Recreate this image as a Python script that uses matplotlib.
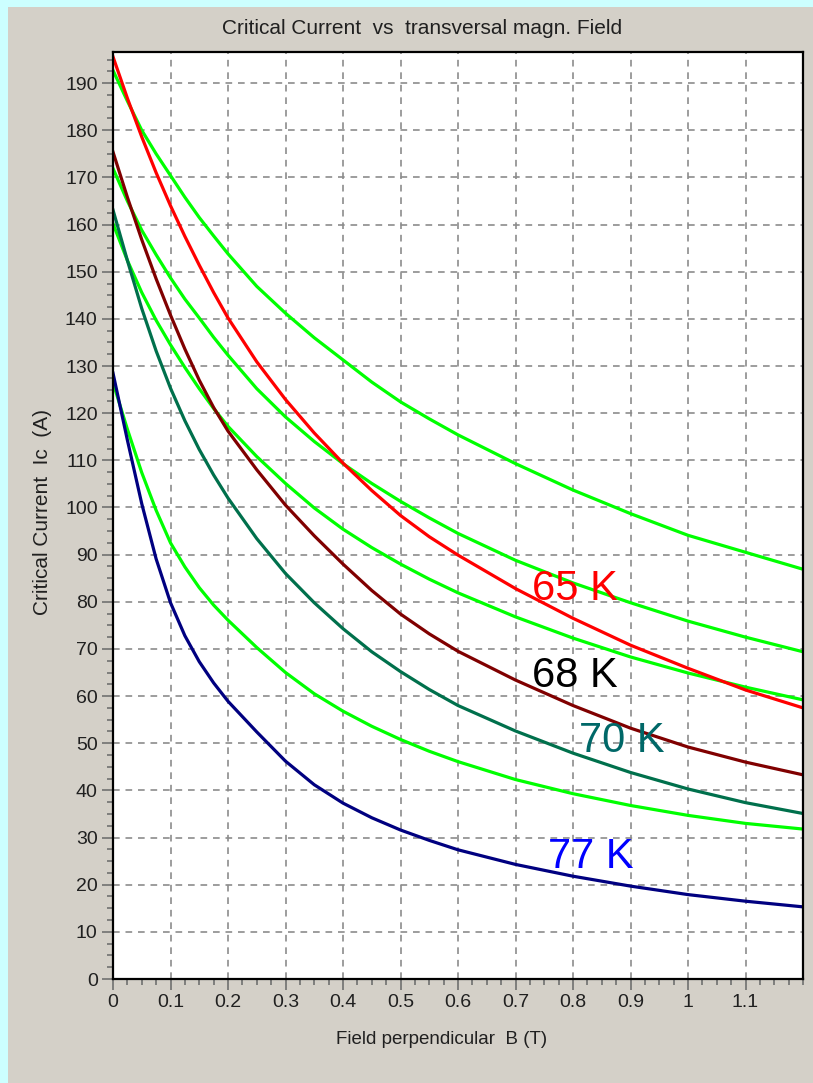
import matplotlib
matplotlib.use("Agg")
import matplotlib.pyplot as plt
from matplotlib.patches import Rectangle
from matplotlib.ticker import MultipleLocator, FixedLocator

plt.rcParams['font.family'] = ['Liberation Sans', 'DejaVu Sans']

# ---- data ----
field_b = [0, 0.025, 0.05, 0.075, 0.1, 0.125, 0.15, 0.175, 0.2, 0.25, 0.3, 0.35, 0.4, 0.45,
           0.5, 0.55, 0.6, 0.7, 0.8, 0.9, 1.0, 1.1, 1.2]

ic_65k = [195.6, 186.8, 178.6, 171.0, 164.0, 157.5, 151.4, 145.6, 140.2, 130.9, 122.9, 115.8, 109.4, 103.6,
          98.3, 93.8, 89.9, 82.8, 76.5, 70.8, 65.9, 61.3, 57.5]
fit_65k = [192.7, 186.2, 180.0, 175.0, 170.4, 165.8, 161.5, 157.6, 153.8, 146.9, 141.2, 136.0, 131.3, 126.6,
           122.4, 118.8, 115.4, 109.3, 103.7, 98.7, 94.1, 90.5, 86.9]

ic_68k = [175.4, 165.8, 156.8, 148.5, 140.8, 133.6, 127.0, 121.2, 116.2, 108.0, 100.5, 94.0, 88.0, 82.4,
          77.4, 73.2, 69.5, 63.4, 58.0, 53.2, 49.2, 46.0, 43.3]
fit_68k = [171.9, 165.0, 158.8, 153.6, 148.7, 144.2, 140.2, 136.1, 132.3, 125.2, 119.2, 114.0, 109.3, 105.1,
           101.3, 97.8, 94.5, 88.8, 84.0, 79.8, 75.9, 72.5, 69.4]

ic_70k = [163.1, 152.4, 142.2, 133.2, 125.3, 118.4, 112.3, 106.9, 102.0, 93.4, 86.0, 79.8, 74.3, 69.4,
          65.2, 61.4, 58.0, 52.6, 47.9, 43.8, 40.3, 37.4, 35.1]
fit_70k = [160.2, 152.4, 145.6, 139.7, 134.5, 129.7, 125.2, 121.0, 117.2, 110.8, 105.1, 99.9, 95.4, 91.5,
           88.0, 84.8, 81.9, 76.8, 72.3, 68.3, 64.9, 61.9, 59.2]

ic_77k = [128.5, 114.3, 100.8, 89.1, 79.8, 72.8, 67.3, 62.8, 58.9, 52.4, 46.2, 41.2, 37.3, 34.2,
          31.6, 29.4, 27.4, 24.3, 21.8, 19.7, 17.9, 16.5, 15.3]
fit_77k = [126.5, 116.6, 107.4, 99.4, 92.5, 87.4, 83.0, 79.3, 76.1, 70.3, 65.0, 60.5, 56.8, 53.6,
           50.8, 48.3, 46.1, 42.3, 39.3, 36.8, 34.7, 33.0, 31.8]

labels = ["65 K", "68 K", "70 K", "77 K"]
label_x = [0.804, 0.804, 0.885, 0.831]
label_y = [82.7, 64.3, 50.5, 25.9]
label_colors = ["#FF0000", "#000000", "#006868", "#0000FF"]

x_ticks = [0, 0.1, 0.2, 0.3, 0.4, 0.5, 0.6, 0.7, 0.8, 0.9, 1.0, 1.1]
x_tick_labels = ["0", "0.1", "0.2", "0.3", "0.4", "0.5", "0.6", "0.7", "0.8", "0.9", "1", "1.1"]

# ---- figure ----
W, H = 813, 1083
fig = plt.figure(figsize=(W / 100, H / 100), dpi=100, facecolor="#CCFFFF")
fig.patches.append(Rectangle((8 / W, 0), 1, (H - 7) / H, transform=fig.transFigure,
                             facecolor="#D4D0C8", edgecolor="none", zorder=-10))

ax = fig.add_axes([113 / W, (H - 979) / H, (803 - 113) / W, (979 - 52) / H])
ax.set_zorder(1)
ax.set_facecolor("white")

lw = 2.3
green = "#00FF00"
for fy in (fit_65k, fit_68k, fit_70k, fit_77k):
    ax.plot(field_b, fy, color=green, lw=lw, zorder=3)
ax.plot(field_b, ic_65k, color="#FF0000", lw=lw, zorder=4)
ax.plot(field_b, ic_68k, color="#800000", lw=lw, zorder=4)
ax.plot(field_b, ic_70k, color="#00704C", lw=lw, zorder=4)
ax.plot(field_b, ic_77k, color="#000080", lw=lw, zorder=4)

for t, lx, ly, c in zip(labels, label_x, label_y, label_colors):
    ax.text(lx, ly, t, color=c, fontsize=30, ha="center", va="center", zorder=5)

ax.set_xlim(0, 1.2)
ax.set_ylim(0, 196.6)
ax.xaxis.set_major_locator(FixedLocator(x_ticks))
ax.set_xticklabels(x_tick_labels)
ax.xaxis.set_minor_locator(MultipleLocator(0.025))
ax.yaxis.set_major_locator(MultipleLocator(10))
ax.yaxis.set_minor_locator(MultipleLocator(2.5))

ax.grid(True, which="major", color="#8C8C8C", linestyle=(0, (4, 3.5)), lw=1.2, zorder=1)
ax.tick_params(which="major", direction="out", length=8, width=1.2, color="#707070",
               labelsize=14, labelcolor="#202020", pad=3)
ax.tick_params(which="minor", direction="out", length=4, width=1.2, color="#707070")

for s in ax.spines.values():
    s.set_color("#000000")
    s.set_linewidth(1.6)
    s.set_zorder(6)

fig.text(422 / W, 1 - 28 / H, "Critical Current  vs  transversal magn. Field",
         ha="center", va="center", fontsize=15, color="#202020")
fig.text(442 / W, 1 - 1040 / H, "Field perpendicular  B (T)",
         ha="center", va="center", fontsize=13.5, color="#202020")
fig.text(42 / W, 1 - 512 / H, "Critical Current  Ic  (A)", rotation=90,
         ha="center", va="center", fontsize=15, color="#202020")

fig.savefig("out.png", dpi=100, facecolor=fig.get_facecolor())
